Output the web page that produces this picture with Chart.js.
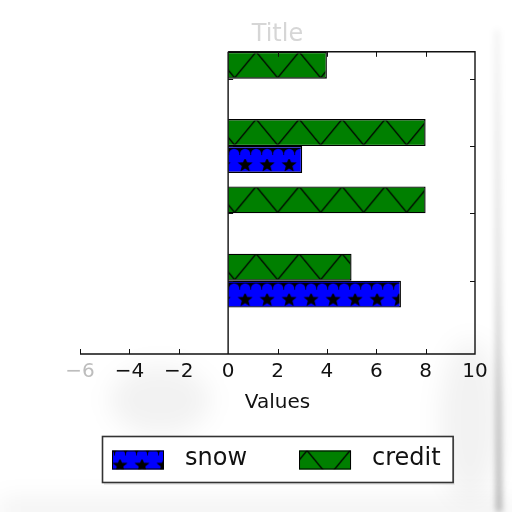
<!DOCTYPE html>
<html><head><meta charset="utf-8">
<script src="https://cdn.jsdelivr.net/npm/chart.js@4.4.1/dist/chart.umd.min.js"></script>
<style>html,body{margin:0;padding:0;background:#fff;}</style>
</head><body>
<canvas id="c" width="512" height="512"></canvas>
<script>
// ---- data ----
const categories = [0, 1, 2, 3];          // bar positions, bottom to top
const snowValues = [7, 0, 3, 0];
const creditValues = [5, 8, 8, 4];
const xTicks = [-6, -4, -2, 0, 2, 4, 6, 8, 10];
const seriesLabels = ['snow', 'credit'];
const titleText = 'Title';
const xTitle = 'Values';

const FONT = 'DejaVu Sans';

function greenTile() {
  const w = 43, h = 52, c = document.createElement('canvas');
  c.width = w; c.height = h;
  const g = c.getContext('2d');
  g.fillStyle = '#007f00'; g.fillRect(0, 0, w, h);
  g.strokeStyle = '#000'; g.lineWidth = 1.3;
  g.beginPath();
  g.moveTo(-2, -2 * h / w); g.lineTo(w + 2, h + 2 * h / w);
  g.moveTo(w + 2, -2 * h / w); g.lineTo(-2, h + 2 * h / w);
  g.stroke();
  return c;
}
function star(g, cx, cy, ro, ri) {
  g.beginPath();
  for (let i = 0; i < 10; i++) {
    const r = i % 2 ? ri : ro;
    const a = -Math.PI / 2 + i * Math.PI / 5;
    const px = cx + r * Math.cos(a), py = cy + r * Math.sin(a);
    i ? g.lineTo(px, py) : g.moveTo(px, py);
  }
  g.closePath(); g.fill();
}
function blueTile() {
  const w = 22, h = 27, c = document.createElement('canvas');
  c.width = w; c.height = h;
  const g = c.getContext('2d');
  g.fillStyle = '#0000ff'; g.fillRect(0, 0, w, h);
  g.fillStyle = '#000';
  g.fillRect(0, 0, w, 9);
  star(g, 11, 19, 8, 3.4);
  g.fillStyle = '#0000ff';
  [0, 11, 22].forEach(cx => { g.beginPath(); g.arc(cx, 8, 5.2, 0, Math.PI * 2); g.fill(); });
  g.fillRect(0, 0, w, 2);
  return c;
}
const tiles = { credit: greenTile(), snow: blueTile() };
const hatchShift = { credit: 28, snow: 6 };
const pctx = document.createElement('canvas').getContext('2d');
const patterns = {};
function patternFor(label, i) {
  const key = label + i;
  if (!patterns[key]) patterns[key] = pctx.createPattern(tiles[label], 'repeat');
  return patterns[key];
}
const legendFills = { snow: pctx.createPattern(tiles.snow, 'repeat'), credit: pctx.createPattern(tiles.credit, 'repeat') };

const alignPlugin = {
  id: 'alignHatch',
  beforeDatasetsDraw(chart) {
    const x0 = chart.scales.x.getPixelForValue(0);
    chart.data.datasets.forEach((ds, d) => {
      chart.getDatasetMeta(d).data.forEach((el, i) => {
        const top = el.y - el.height / 2;
        patternFor(ds.label, i).setTransform(new DOMMatrix().translate(x0 + hatchShift[ds.label], top));
      });
    });
  }
};

const bgPlugin = {
  id: 'bg',
  beforeDraw(chart) {
    const g = chart.ctx;
    g.save();
    g.fillStyle = '#fff'; g.fillRect(0, 0, 512, 512);
    g.filter = 'blur(3px)';
    const vg = g.createLinearGradient(0, 30, 0, 512);
    vg.addColorStop(0, 'rgba(0,0,0,0.05)');
    vg.addColorStop(0.5, 'rgba(0,0,0,0.15)');
    vg.addColorStop(1, 'rgba(0,0,0,0.35)');
    g.strokeStyle = vg; g.lineWidth = 5;
    g.beginPath(); g.moveTo(497, 30); g.lineTo(499, 512); g.stroke();
    g.filter = 'blur(12px)';
    g.fillStyle = 'rgba(0,0,0,0.06)';
    g.fillRect(0, 500, 512, 20);
    g.fillStyle = 'rgba(0,0,0,0.05)';
    g.beginPath(); g.ellipse(160, 400, 50, 35, 0, 0, Math.PI * 2); g.fill();
    g.beginPath(); g.ellipse(470, 420, 30, 80, 0, 0, Math.PI * 2); g.fill();
    g.restore();
  }
};

const framePlugin = {
  id: 'frame',
  afterDatasetsDraw(chart) {
    const g = chart.ctx, x = chart.scales.x, y = chart.scales.y, a = chart.chartArea;
    const x0 = x.getPixelForValue(0), x1 = x.getPixelForValue(10);
    g.save();
    g.strokeStyle = '#111'; g.lineWidth = 1.4;
    g.beginPath();
    g.moveTo(x0, a.top); g.lineTo(x1, a.top); g.lineTo(x1, a.bottom);
    g.lineTo(a.left, a.bottom);
    g.moveTo(x0, a.top); g.lineTo(x0, a.bottom);
    g.stroke();
    g.lineWidth = 1;
    g.beginPath();
    xTicks.forEach(v => {
      const p = Math.round(x.getPixelForValue(v)) + 0.5;
      if (v !== 0 && v !== 10) {
        g.moveTo(p, a.bottom); g.lineTo(p, a.bottom - 5);
        if (v > 0) { g.moveTo(p, a.top); g.lineTo(p, a.top + 5); }
      }
    });
    categories.forEach(v => {
      const p = Math.round(y.getPixelForValue(v)) + 0.5;
      g.moveTo(x1, p); g.lineTo(x1 - 5, p);
      g.moveTo(x0, p); g.lineTo(x0 + 5, p);
    });
    g.stroke();
    g.restore();
  }
};

const legendPlugin = {
  id: 'boxLegend',
  afterDraw(chart) {
    const g = chart.ctx, a = chart.chartArea;
    g.save();
    g.font = '24px "' + FONT + '"';
    const padL = 10, padR = 12, boxW = 52, boxH = 19, gap = 21, itemGap = 52;
    let total = padL + padR;
    seriesLabels.forEach((l, i) => { total += boxW + gap + g.measureText(l).width + (i ? itemGap : 0); });
    const cx = (a.left + a.right) / 2;
    const left = Math.round(cx - total / 2), top = 436, height = 46;
    g.fillStyle = 'rgba(0,0,0,0.08)';
    g.fillRect(left + 2, top + 3, total, height);
    g.fillStyle = '#fff'; g.fillRect(left, top, total, height);
    g.strokeStyle = '#333'; g.lineWidth = 1.6;
    g.strokeRect(left + 0.5, top + 0.5, total, height);
    let xx = left + padL;
    const midY = top + height / 2;
    seriesLabels.forEach((l, i) => {
      if (i) xx += itemGap;
      const by = midY - boxH / 2 + 1;
      legendFills[l].setTransform(new DOMMatrix().translate(xx + (l === 'snow' ? -3 : 8), by - (l === 'snow' ? 4 : 0)));
      g.fillStyle = legendFills[l];
      g.fillRect(xx, by, boxW, boxH);
      g.strokeStyle = '#000'; g.lineWidth = 1;
      g.strokeRect(xx + 0.5, by + 0.5, boxW - 1, boxH - 1);
      xx += boxW + gap;
      g.fillStyle = '#111'; g.textBaseline = 'middle'; g.textAlign = 'left';
      g.fillText(l, xx, midY);
      xx += g.measureText(l).width;
    });
    g.restore();
  }
};

const ctx = document.getElementById('c').getContext('2d');
new Chart(ctx, {
  type: 'bar',
  data: {
    datasets: [
      { label: seriesLabels[1], data: categories.map((c, i) => ({ x: creditValues[i], y: c })),
        backgroundColor: c => patternFor('credit', c.dataIndex), borderColor: '#000', borderWidth: 1.4,
        categoryPercentage: 0.8, barPercentage: 1.0 },
      { label: seriesLabels[0], data: categories.map((c, i) => ({ x: snowValues[i], y: c })),
        backgroundColor: c => patternFor('snow', c.dataIndex), borderColor: '#000', borderWidth: 1.4,
        categoryPercentage: 0.8, barPercentage: 1.0 }
    ]
  },
  options: {
    indexAxis: 'y',
    responsive: false,
    animation: false,
    devicePixelRatio: 1,
    layout: { padding: { left: 80, right: 37, top: 0, bottom: 93 } },
    plugins: {
      legend: { display: false },
      tooltip: { enabled: false },
      title: { display: true, text: titleText, color: '#d6d6d6',
        font: { family: FONT, size: 24, weight: 'normal' }, padding: { top: 20, bottom: 3 } }
    },
    scales: {
      x: {
        type: 'linear', min: -6, max: 10,
        afterBuildTicks: s => { s.ticks = xTicks.map(v => ({ value: v })); },
        grid: { display: false }, border: { display: false },
        ticks: {
          autoSkip: false, maxRotation: 0, padding: -2,
          font: { family: FONT, size: 20 },
          color: c => (c.tick && c.tick.value === -6) ? '#bdbdbd' : '#111',
          callback: v => String(v).replace('-', '\u2212')
        },
        title: { display: true, text: xTitle, color: '#111',
          font: { family: FONT, size: 20 }, padding: { top: 9, bottom: 4 } }
      },
      y: { type: 'linear', display: false, offset: false, min: -1.09, max: 3.4,
        afterBuildTicks: s => { s.ticks = categories.map(v => ({ value: v })); } }
    }
  },
  plugins: [bgPlugin, alignPlugin, framePlugin, legendPlugin]
});
</script>
</body></html>
